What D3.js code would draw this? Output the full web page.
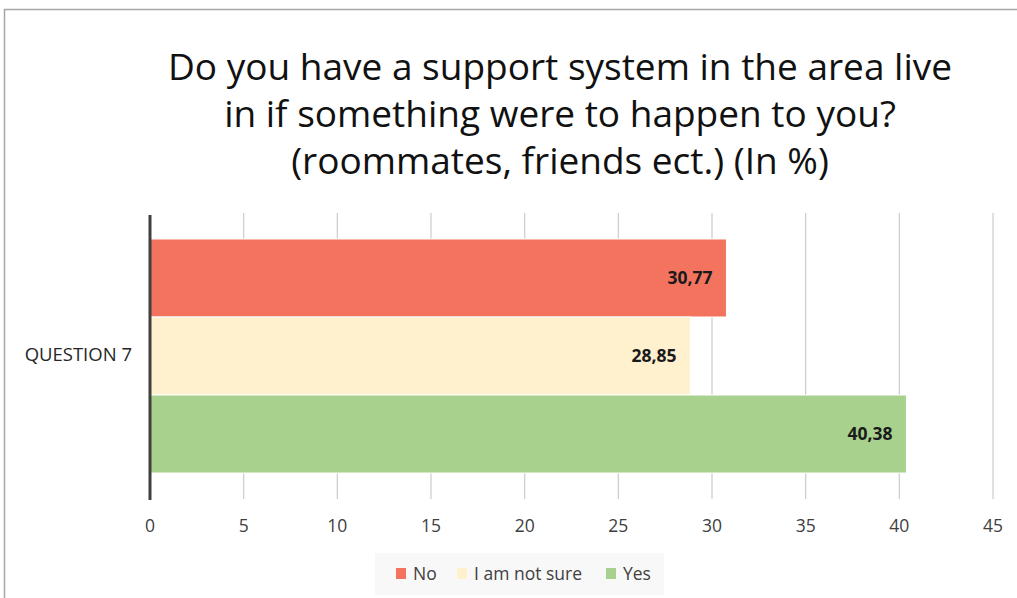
<!DOCTYPE html>
<html>
<head>
<meta charset="utf-8">
<script src="https://cdn.jsdelivr.net/npm/d3@7"></script>
<style>
  body { margin: 0; background: #fff; }
  svg text { font-family: "Liberation Sans Narrow", "Open Sans", sans-serif; }
</style>
</head>
<body>
<div id="chart"></div>
<script>
//// ============================== DATA ============================== ////

var categories = ["QUESTION 7"];
var seriesNames = ["No", "I am not sure", "Yes"];
var seriesValues = [30.77, 28.85, 40.38];
var seriesColors = ["#f4735f", "#fff0ce", "#a9d18e"];
var xTicks = [0, 5, 10, 15, 20, 25, 30, 35, 40, 45];
var titleLines = [
    "Do you have a support system in the area live",
    "in if something were to happen to you?",
    "(roommates, friends ect.) (In %)"
];

//// ============================== LAYOUT ============================== ////

var width = 1017;
var height = 598;
var plotLeft = 150, plotRight = 993, plotTop = 213, plotBottom = 499;

var svg = d3.select("#chart").append("svg")
    .attr("width", width)
    .attr("height", height);

// outer frame
svg.append("rect")
    .attr("x", 4.5).attr("y", 9.5)
    .attr("width", width + 10).attr("height", height + 10)
    .attr("fill", "none")
    .attr("stroke", "#a6a6a6")
    .attr("stroke-width", 1.5);

// title
svg.append("g").selectAll("text")
    .data(titleLines)
    .enter().append("text")
    .attr("x", 560)
    .attr("y", function(d, i) { return 80 + i * 47; })
    .attr("text-anchor", "middle")
    .attr("font-size", 37)
    .attr("fill", "#111")
    .text(function(d) { return d; });

var x = d3.scaleLinear()
    .domain([0, 45])
    .range([plotLeft, plotRight]);

var yCat = d3.scaleBand()
    .domain(categories)
    .range([plotTop, plotBottom]);

var ySeries = d3.scaleBand()
    .domain(seriesNames)
    .range([0, yCat.bandwidth()])
    .paddingOuter(0.333)
    .paddingInner(0);

// gridlines
svg.append("g").selectAll("line")
    .data(xTicks.slice(1))
    .enter().append("line")
    .attr("x1", function(d) { return x(d); })
    .attr("x2", function(d) { return x(d); })
    .attr("y1", plotTop)
    .attr("y2", plotBottom)
    .attr("stroke", "#cfcfcf")
    .attr("stroke-width", 1.3);

// bars
var bars = svg.append("g").selectAll("g")
    .data(seriesNames.map(function(name, i) {
        return { name: name, value: seriesValues[i], color: seriesColors[i], cat: categories[0] };
    }))
    .enter().append("g");

bars.append("rect")
    .attr("x", x(0))
    .attr("y", function(d) { return yCat(d.cat) + ySeries(d.name); })
    .attr("width", function(d) { return x(d.value) - x(0); })
    .attr("height", ySeries.bandwidth())
    .attr("fill", function(d) { return d.color; })
    .attr("stroke", "#fff")
    .attr("stroke-width", 1);

bars.append("text")
    .attr("x", function(d) { return x(d.value) - 14; })
    .attr("y", function(d) { return yCat(d.cat) + ySeries(d.name) + ySeries.bandwidth() / 2; })
    .attr("dy", "0.35em")
    .attr("text-anchor", "end")
    .attr("font-size", 17.5)
    .attr("font-weight", "bold")
    .attr("fill", "#1a1a1a")
    .text(function(d) { return d3.format(".2f")(d.value).replace(".", ","); });

// category axis line
svg.append("line")
    .attr("x1", x(0)).attr("x2", x(0))
    .attr("y1", plotTop + 2).attr("y2", plotBottom + 1)
    .attr("stroke", "#404040")
    .attr("stroke-width", 3);

svg.append("g").selectAll("text")
    .data(categories)
    .enter().append("text")
    .attr("x", 132)
    .attr("y", function(d) { return yCat(d) + yCat.bandwidth() / 2 - 1; })
    .attr("dy", "0.35em")
    .attr("text-anchor", "end")
    .attr("font-size", 18.5)
    .attr("fill", "#262626")
    .text(function(d) { return d; });

// value axis labels
svg.append("g").selectAll("text")
    .data(xTicks)
    .enter().append("text")
    .attr("x", function(d) { return x(d); })
    .attr("y", 532)
    .attr("text-anchor", "middle")
    .attr("font-size", 17.5)
    .attr("fill", "#404040")
    .text(function(d) { return d; });

// legend
var legend = svg.append("g");
legend.append("rect")
    .attr("x", 375).attr("y", 553)
    .attr("width", 289).attr("height", 42)
    .attr("fill", "#f8f8f8");

var legendX = [396, 457, 606];
var items = legend.selectAll("g.item")
    .data(seriesNames)
    .enter().append("g")
    .attr("class", "item")
    .attr("transform", function(d, i) { return "translate(" + legendX[i] + ",568)"; });

items.append("rect")
    .attr("width", 10).attr("height", 11)
    .attr("fill", function(d, i) { return seriesColors[i]; });

items.append("text")
    .attr("x", 17)
    .attr("y", 6)
    .attr("dy", "0.35em")
    .attr("font-size", 17.5)
    .attr("fill", "#404040")
    .text(function(d) { return d; });
</script>
</body>
</html>
